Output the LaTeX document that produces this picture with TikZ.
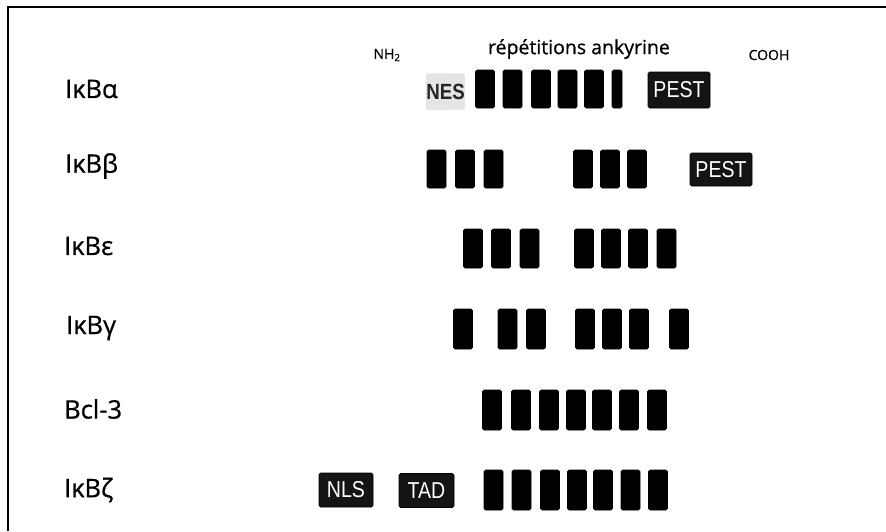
\documentclass[tikz,border=0pt]{standalone}
\usepackage{fontspec}
\setmainfont{Open Sans}
\newfontfamily\heavyfont{Open Sans}[FakeBold=0.7]
\newfontfamily\boxfont{Liberation Sans}[FakeStretch=0.85]
\begin{document}
\begin{tikzpicture}[x=1pt,y=-1pt,
  rep/.style={fill=black,draw=black,line width=0.6pt,rounded corners=1.5pt,inner sep=0pt,
              minimum width=19pt,minimum height=38pt},
  motif/.style={fill=black!92,draw=black,line width=0.6pt,rounded corners=1.5pt,inner sep=0pt,
              minimum height=34pt,text=white,font=\boxfont\fontsize{23}{23}\selectfont},
  prot/.style={anchor=west,inner sep=0pt,font=\heavyfont\fontsize{25.5}{25.5}\selectfont},
  term/.style={font=\heavyfont\fontsize{14}{14}\selectfont}]
\useasboundingbox (0,0) rectangle (886,531);
% frame
\coordinate (fl) at (8,531);
\coordinate (ft) at (8,7);
\coordinate (fr) at (886,7);
\draw[line width=1.6pt] (fl) -- (ft) -- (fr);

% header
\node[term] (nh) at (387,55) {NH\textsubscript{2}};
\node[font=\heavyfont\fontsize{19.5}{19.5}\selectfont] (ank) at (579,49) {répétitions ankyrine};
\node[term] (cooh) at (769,55) {COOH};

% protein names
\node[prot] (la) at (65,89) {IκBα};
\node[prot] (lb) at (65,166) {IκBβ};
\node[prot] (le) at (64,246) {IκBε};
\node[prot] (lg) at (66,328) {IκBγ};
\node[prot] (lc) at (64,409) {Bcl-3};
\node[prot] (lz) at (64,490) {IκBζ};

% IkBa
\node[fill=black!10,draw=black!30,densely dotted,rounded corners=1.5pt,minimum width=35pt,minimum height=36pt,inner sep=0pt,
      font=\boxfont\bfseries\fontsize{22}{22}\selectfont,text=black!85] (nes) at (445.5,91.5) {NES};
\foreach \x [count=\i] in {485,512.5,541,567.5,594} \node[rep] (a\i) at (\x,89) {};
\node[rep,minimum width=10pt] (a6) at (617,89) {};
\node[motif,minimum width=62pt,minimum height=36pt] (pa) at (679,90) {PEST};

% IkBb
\foreach \x [count=\i] in {436.5,465,493.5,583,610,637} \node[rep] (b\i) at (\x,169) {};
\node[motif,minimum width=62pt,minimum height=33pt] (pb) at (721,169.5) {PEST};

% IkBe
\foreach \x [count=\i] in {473,501,529.5,584,611,638,666.5} \node[rep,minimum height=39pt] (e\i) at (\x,248.5) {};

% IkBg
\foreach \x [count=\i] in {463,507.5,536,585,612,639,679} \node[rep,minimum height=40pt] (g\i) at (\x,329) {};

% Bcl-3
\foreach \x [count=\i] in {492,521,549,576,602,629,657} \node[rep,minimum height=40pt] (c\i) at (\x,410) {};

% IkBz
\node[motif,minimum width=54pt] (nls) at (346,490) {NLS};
\node[motif,minimum width=55pt] (tad) at (426.5,490.5) {TAD};
\foreach \x [count=\i] in {493.5,521.5,550,577,603,630.5,658} \node[rep,minimum height=40pt] (z\i) at (\x,490) {};
\end{tikzpicture}
\end{document}
